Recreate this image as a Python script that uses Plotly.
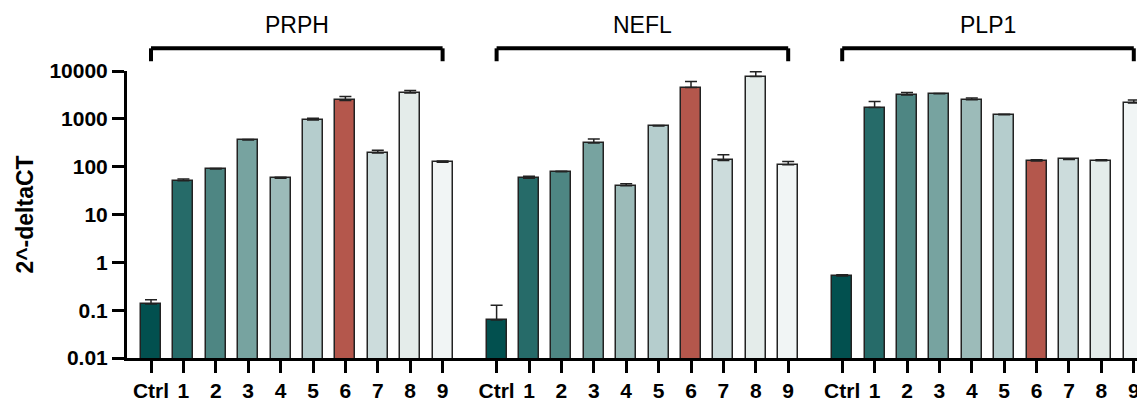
import plotly.graph_objects as go

genes = ["PRPH", "NEFL", "PLP1"]
samples = ["Ctrl", "1", "2", "3", "4", "5", "6", "7", "8", "9"]

prph_vals = [0.135, 51, 89, 360, 57, 940, 2430, 192, 3450, 123]
prph_err = [0.03, 4, 3, 12, 3, 90, 500, 29, 460, 8]
nefl_vals = [0.062, 57, 78, 314, 40, 705, 4520, 135, 7640, 110]
nefl_err = [0.065, 6, 2, 65, 4, 20, 1500, 42, 2000, 19]
plp1_vals = [0.52, 1720, 3140, 3340, 2510, 1210, 131, 142, 133, 2140]
plp1_err = [0.03, 570, 420, 50, 200, 30, 8, 5, 6, 330]
y_ticks = [0.01, 0.1, 1, 10, 100, 1000, 10000]
y_ticklabels = ["0.01", "0.1", "1", "10", "100", "1000", "10000"]

colors = ["#02504F", "#266B69", "#4E8683", "#77A3A0", "#9CBBB9",
          "#B5CDCD", "#B4574C", "#CCDCDC", "#E4ECEA", "#F1F5F5"]

values = [prph_vals, nefl_vals, plp1_vals]
errors = [prph_err, nefl_err, plp1_err]

FONT = "Arial, Liberation Sans, Helvetica, sans-serif"
GAP = 1.667
n = len(samples)
group_start = [g * (n - 1 + GAP) for g in range(len(genes))]

fig = go.Figure()
tickvals, ticktext = [], []
for g, gene in enumerate(genes):
    xs = [group_start[g] + i for i in range(n)]
    tickvals += xs
    ticktext += ["<b>%s</b>" % s for s in samples]
    fig.add_trace(go.Bar(
        x=xs, y=values[g], width=0.62,
        marker=dict(color=colors, line=dict(color="#222222", width=1.5)),
        error_y=dict(type="data", symmetric=False, array=errors[g],
                     arrayminus=[0] * n, color="#222222", thickness=1.5, width=6),
        showlegend=False, name=gene,
    ))
    x0, x1 = xs[0], xs[-1]
    fig.add_shape(type="line", xref="x", yref="paper", x0=x0, x1=x1, y0=1.079, y1=1.079,
                  line=dict(color="black", width=4))
    for xe in (x0, x1):
        fig.add_shape(type="line", xref="x", yref="paper", x0=xe, x1=xe, y0=1.079, y1=1.034,
                      line=dict(color="black", width=4))
    fig.add_annotation(x=(x0 + x1) / 2, xref="x", y=1.159, yref="paper", text=gene,
                       showarrow=False, font=dict(size=23, color="black", family=FONT),
                       yanchor="middle")

# page body has an 8px margin, so the figure is sized to fit the 1145x402 window
fig.update_layout(
    width=1137, height=394,
    margin=dict(l=119, r=0, t=63, b=41),
    plot_bgcolor="white", paper_bgcolor="white",
    bargap=0,
    font=dict(family=FONT, color="black"),
)
fig.update_xaxes(
    range=[-0.741, 30.68], tickvals=tickvals, ticktext=ticktext,
    showline=True, linecolor="black", linewidth=3,
    ticks="outside", ticklen=12, tickwidth=3, tickcolor="black",
    tickfont=dict(size=21, family=FONT, color="black"),
    showgrid=False, zeroline=False,
)
fig.update_yaxes(
    type="log", range=[-2, 4],
    tickvals=y_ticks,
    ticktext=["<b>%s</b>" % t for t in y_ticklabels],
    showline=True, linecolor="black", linewidth=3,
    ticks="outside", ticklen=12, tickwidth=3, tickcolor="black",
    tickfont=dict(size=21, color="black", family=FONT),
    showgrid=False, zeroline=False,
    title=dict(text="<b>2^-deltaCT</b>", font=dict(size=23, color="black", family=FONT), standoff=10),
)

fig.write_html("out.html")
